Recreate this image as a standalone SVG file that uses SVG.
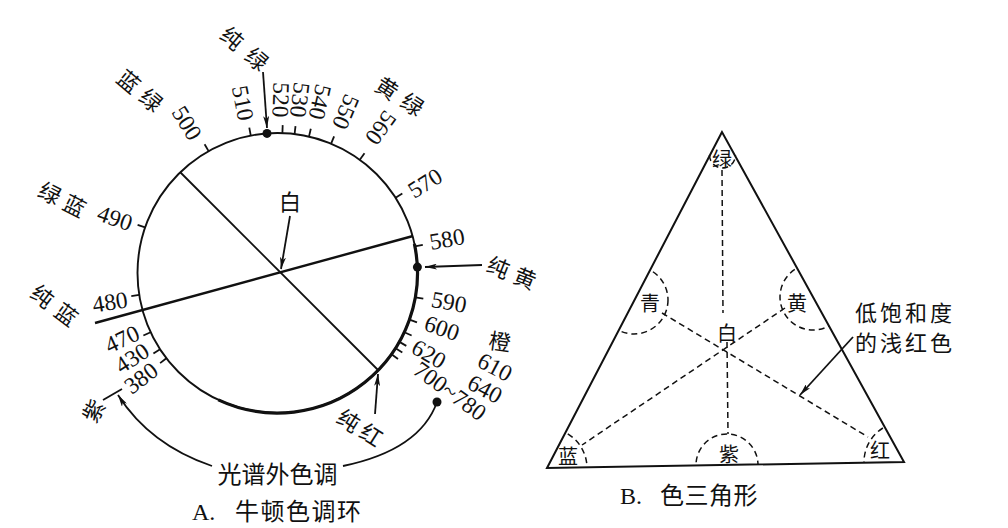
<svg xmlns="http://www.w3.org/2000/svg" width="1008" height="528" viewBox="0 0 1008 528">
<style>
.n{font-family:"Liberation Serif","Times New Roman",serif;font-size:23.5px;fill:#111;text-anchor:middle;dominant-baseline:central}
.c{font-family:"Noto Sans CJK SC","Noto Sans",sans-serif;font-size:22px;fill:#111;text-anchor:middle;dominant-baseline:central}
.t{font-family:"Noto Sans CJK SC","Noto Sans",sans-serif;font-size:20px;fill:#111;text-anchor:middle;dominant-baseline:central}
.cap{font-family:"Noto Sans CJK SC","Noto Sans",sans-serif;font-size:24px;fill:#111}
.capl{font-family:"Liberation Serif","Times New Roman",serif;font-size:24px;fill:#111}
.ls{font-family:"Noto Sans CJK SC","Noto Sans",sans-serif;font-size:22px;fill:#111;letter-spacing:3px;dominant-baseline:central}
.ln{fill:none;stroke:#111;stroke-width:1.8}
.tk{stroke:#111;stroke-width:1.8}
.ds{fill:none;stroke:#111;stroke-width:1.5;stroke-dasharray:6 4}
.dot{fill:#111}
</style>
<defs>
<marker id="ah" viewBox="0 0 12 6" refX="12" refY="3" markerWidth="12" markerHeight="6" orient="auto" markerUnits="userSpaceOnUse">
<path d="M0,0 L12,3 L0,6 L3,3 z" fill="#111"/>
</marker>
<clipPath id="tri"><polygon points="722,132 547,468 904,462"/></clipPath>
</defs>
<rect width="1008" height="528" fill="#fff"/>

<g id="hue-circle">
<circle cx="277.5" cy="273" r="140" fill="none" stroke="#111" stroke-width="1.9"/>
<path d="M218.3,399.9 A140,140 0 0 0 414.4,243.9" fill="none" stroke="#111" stroke-width="3.2"/>
<line x1="95" y1="323" x2="413" y2="236" stroke="#111" stroke-width="2.4"/>
<line x1="180" y1="172" x2="378" y2="370" stroke="#111" stroke-width="1.8"/>
</g>

<g id="ticks">
<line class="tk" x1="208.6" y1="151.1" x2="204.6" y2="144.2"/>
<line class="tk" x1="250.8" y1="135.6" x2="249.3" y2="127.7"/>
<line class="tk" x1="282.4" y1="133.1" x2="282.7" y2="125.1"/>
<line class="tk" x1="294.6" y1="134.0" x2="295.5" y2="126.1"/>
<line class="tk" x1="309.0" y1="136.6" x2="310.8" y2="128.8"/>
<line class="tk" x1="331.1" y1="143.7" x2="334.1" y2="136.3"/>
<line class="tk" x1="359.8" y1="159.7" x2="364.5" y2="153.3"/>
<line class="tk" x1="395.6" y1="197.8" x2="402.3" y2="193.5"/>
<line class="tk" x1="414.9" y1="246.3" x2="422.8" y2="244.8"/>
<line class="tk" x1="415.4" y1="297.3" x2="423.3" y2="298.7"/>
<line class="tk" x1="409.5" y1="319.7" x2="417.0" y2="322.4"/>
<line class="tk" x1="404.4" y1="332.2" x2="411.6" y2="335.5"/>
<line class="tk" x1="399.4" y1="341.9" x2="406.3" y2="345.9"/>
<line class="tk" x1="395.6" y1="348.2" x2="402.3" y2="352.5"/>
<line class="tk" x1="391.5" y1="354.3" x2="398.0" y2="358.9"/>
<line class="tk" x1="145.1" y1="227.4" x2="137.6" y2="224.8"/>
<line class="tk" x1="139.2" y1="294.9" x2="131.3" y2="296.1"/>
<line class="tk" x1="150.6" y1="332.2" x2="143.4" y2="335.5"/>
<line class="tk" x1="160.1" y1="349.2" x2="153.4" y2="353.6"/>
<line class="tk" x1="166.4" y1="358.2" x2="160.1" y2="363.1"/>
</g>

<g id="wavelengths">
<text class="n" transform="translate(187,123) rotate(58)">500</text>
<text class="n" transform="translate(243,103) rotate(79)">510</text>
<text class="n" transform="translate(281,100) rotate(92)">520</text>
<text class="n" transform="translate(300,100) rotate(97)">530</text>
<text class="n" transform="translate(320,102) rotate(103)">540</text>
<text class="n" transform="translate(346,112) rotate(113)">550</text>
<text class="n" transform="translate(381,128) rotate(126)">560</text>
<text class="n" transform="translate(425,183) rotate(-32)">570</text>
<text class="n" transform="translate(447,239) rotate(-10)">580</text>
<text class="n" transform="translate(449,302) rotate(10)">590</text>
<text class="n" transform="translate(442,328) rotate(19)">600</text>
<text class="n" transform="translate(429,354) rotate(30)">620</text>
<text class="n" transform="translate(450,391) rotate(36)">700~780</text>
<text class="n" transform="translate(495,367) rotate(28)">610</text>
<text class="n" transform="translate(485,389) rotate(28)">640</text>
<text class="n" transform="translate(115,218) rotate(19)">490</text>
<text class="n" transform="translate(110,302) rotate(-9)">480</text>
<text class="n" transform="translate(122,339) rotate(-25)">470</text>
<text class="n" transform="translate(132,358) rotate(-33)">430</text>
<text class="n" transform="translate(141,378) rotate(-37)">380</text>
</g>

<g id="hue-names">
<text class="c" transform="translate(245.5,47.5) rotate(40)"><tspan x="-16.3" y="0">纯</tspan><tspan x="16.3" y="0">绿</tspan></text>
<text class="c" transform="translate(400.5,95) rotate(33)"><tspan x="-15" y="0">黄</tspan><tspan x="15" y="0">绿</tspan></text>
<text class="c" transform="translate(141,89.5) rotate(40)"><tspan x="-14.5" y="0">蓝</tspan><tspan x="14.5" y="0">绿</tspan></text>
<text class="c" transform="translate(63,198) rotate(27)"><tspan x="-13.8" y="0">绿</tspan><tspan x="13.8" y="0">蓝</tspan></text>
<text class="c" transform="translate(55.3,304) rotate(37)"><tspan x="-15" y="0">纯</tspan><tspan x="15" y="0">蓝</tspan></text>
<text class="c" transform="translate(512.3,271.2) rotate(22)"><tspan x="-14.5" y="0">纯</tspan><tspan x="14.5" y="0">黄</tspan></text>
<text class="c" transform="translate(360.8,426.2) rotate(32)"><tspan x="-13.5" y="0">纯</tspan><tspan x="13.5" y="0">红</tspan></text>
<text class="c" transform="translate(92,410) rotate(-60)">紫</text>
<text class="c" transform="translate(500,340) rotate(8)">橙</text>
<text class="c" x="290" y="200">白</text>
<text class="c" x="277.5" y="472" style="font-size:24px">光谱外色调</text>
</g>

<g id="connectors">
<line class="ln" x1="263" y1="72" x2="267" y2="128" marker-end="url(#ah)"/>
<circle class="dot" cx="267" cy="133.4" r="4.5"/>
<line class="ln" x1="290" y1="216" x2="281" y2="269" marker-end="url(#ah)"/>
<line class="ln" x1="482" y1="265" x2="425" y2="267" marker-end="url(#ah)"/>
<circle class="dot" cx="417.4" cy="267.1" r="4.5"/>
<line class="ln" x1="375" y1="414" x2="378" y2="374" marker-end="url(#ah)"/>
<path class="ln" d="M212,466 Q150,445 118,395" marker-end="url(#ah)"/>
<path class="ln" d="M343,466 Q420,450 437,402"/>
<circle class="dot" cx="437" cy="402" r="4.5"/>
<line class="ln" x1="103" y1="400" x2="122" y2="389"/>
<line class="ln" x1="853" y1="337" x2="800" y2="395" marker-end="url(#ah)"/>
</g>

<g id="caption-a">
<text class="capl" x="192" y="520">A.</text>
<text class="cap" x="235" y="520" style="letter-spacing:1.5px">牛顿色调环</text>
</g>

<g id="color-triangle">
<polygon points="722,132 547,468 904,462" fill="none" stroke="#111" stroke-width="2"/>
<path class="ds" d="M709.5,155 A13,13 0 0 0 735.5,155"/>
<g clip-path="url(#tri)">
<circle class="ds" cx="634" cy="300" r="34"/>
<circle class="ds" cx="813" cy="297" r="33"/>
<circle class="ds" cx="727" cy="465" r="31"/>
<circle class="ds" cx="547" cy="468" r="40"/>
<circle class="ds" cx="904" cy="462" r="40"/>
</g>
<line class="ds" x1="722" y1="170" x2="723" y2="313"/>
<line class="ds" x1="727" y1="342" x2="728" y2="434"/>
<line class="ds" x1="662" y1="313" x2="868" y2="437"/>
<line class="ds" x1="785" y1="308" x2="582" y2="445"/>
<text class="t" x="722" y="158">绿</text>
<text class="t" x="650" y="302">青</text>
<text class="t" x="797" y="302">黄</text>
<text class="t" x="727" y="332">白</text>
<text class="t" x="729" y="453">紫</text>
<text class="t" x="568" y="455">蓝</text>
<text class="t" x="880" y="449">红</text>
</g>

<g id="low-sat-label">
<text class="ls" x="855" y="311">低饱和度</text>
<text class="ls" x="855" y="341">的浅红色</text>
</g>

<g id="caption-b">
<text class="capl" x="620" y="504">B.</text>
<text class="cap" x="660" y="504" style="letter-spacing:0.5px">色三角形</text>
</g>
</svg>
